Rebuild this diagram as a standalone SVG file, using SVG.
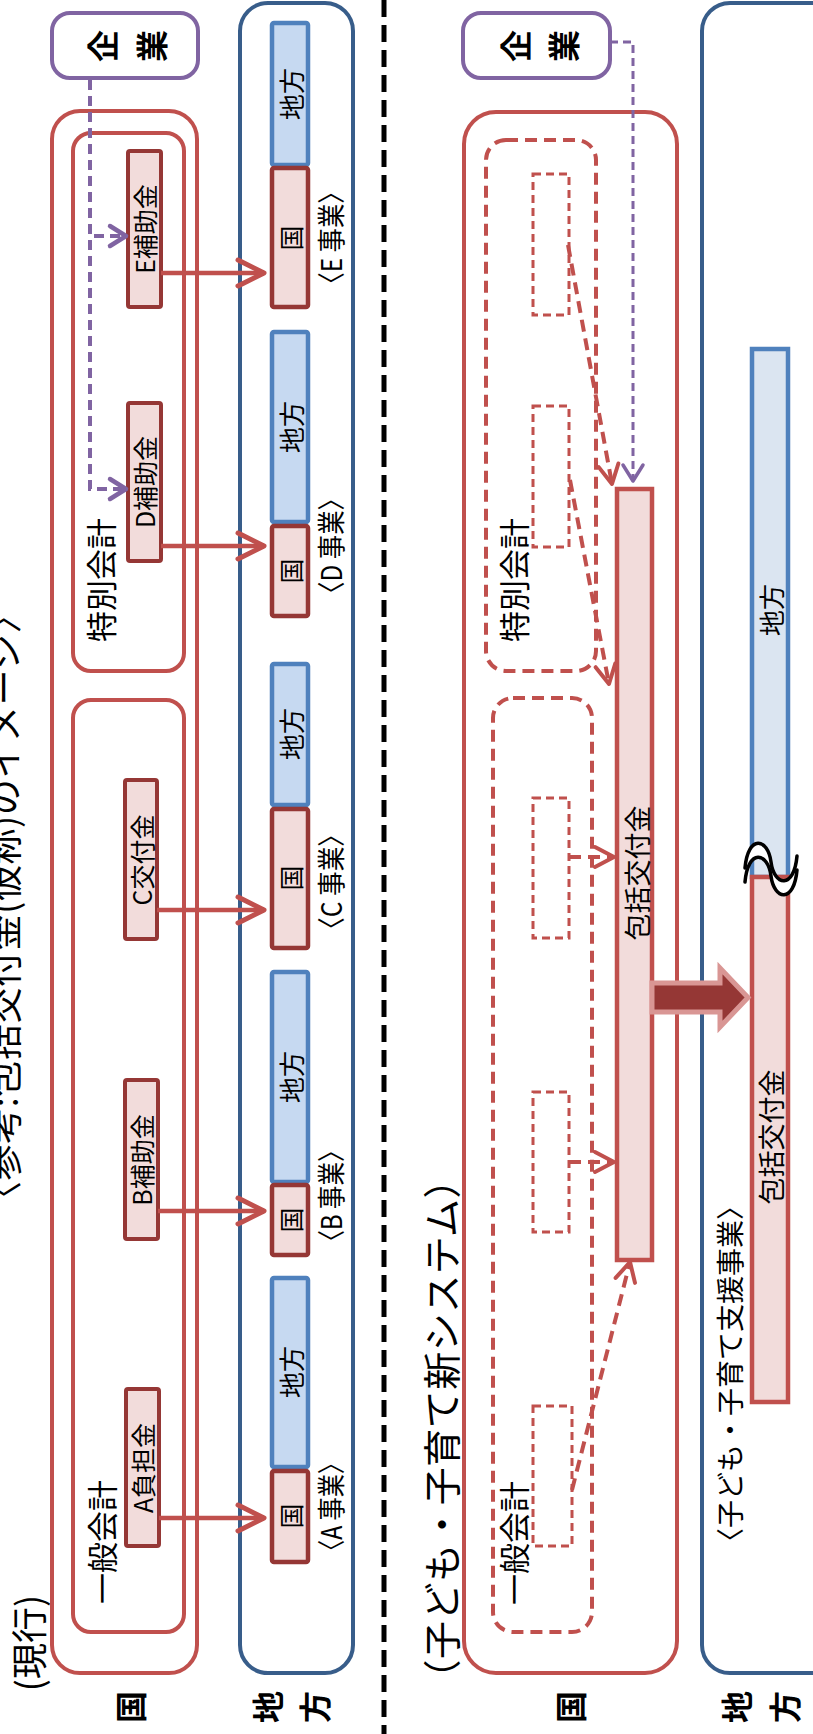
<svg xmlns="http://www.w3.org/2000/svg" width="813" height="1734" viewBox="0 0 813 1734">
<style>
.t{font-family:"Noto Sans CJK JP","Noto Sans CJK SC",sans-serif;fill:#000;dominant-baseline:central;text-anchor:middle}
.b{font-weight:bold}
.redbox{fill:none;stroke:#C0504D;stroke-width:4}
.bluepanel{fill:none;stroke:#385D8A;stroke-width:4}
.blue{fill:#C6D9F1;stroke:#4F81BD;stroke-width:4.5}
.blue2{fill:#DBE5F1;stroke:#4F81BD;stroke-width:4.5}
.kuni{fill:#F2DCDB;stroke:#953735;stroke-width:4.5}
.src{fill:#F2DCDB;stroke:#953735;stroke-width:4}
.bar{fill:#F2DCDB;stroke:#C0504D;stroke-width:4.5}
.purple{fill:#fff;stroke:#8064A2;stroke-width:4}
.dashbox{fill:none;stroke:#C0504D;stroke-width:4;stroke-dasharray:12 7}
.dashsmall{fill:none;stroke:#C0504D;stroke-width:3;stroke-dasharray:8 5}
.arr{fill:none;stroke:#C0504D;stroke-width:4.5}
.parr{fill:none;stroke:#8064A2;stroke-width:4;stroke-dasharray:10 6}
.parr2{fill:none;stroke:#8064A2;stroke-width:3;stroke-dasharray:8 5}
.darr{fill:none;stroke:#C0504D;stroke-width:4;stroke-dasharray:12 7}
</style>
<defs>
<marker id="mRed" markerUnits="userSpaceOnUse" viewBox="-5 -5 40 40" markerWidth="40" markerHeight="40" refX="27" refY="13" orient="auto"><path d="M1,0 L27,13 L1,26" fill="none" stroke="#C0504D" stroke-width="5" stroke-linecap="round" stroke-linejoin="round"/></marker>
<marker id="mPurp" markerUnits="userSpaceOnUse" viewBox="-5 -5 30 30" markerWidth="30" markerHeight="30" refX="17" refY="10" orient="auto"><path d="M1,0 L17,10 L1,20" fill="none" stroke="#8064A2" stroke-width="4.5" stroke-linecap="round" stroke-linejoin="round"/></marker>
<marker id="mPurp2" markerUnits="userSpaceOnUse" viewBox="-5 -5 30 30" markerWidth="30" markerHeight="30" refX="17" refY="10" orient="auto"><path d="M1,0 L17,10 L1,20" fill="none" stroke="#8064A2" stroke-width="3.5" stroke-linecap="round" stroke-linejoin="round"/></marker>
<marker id="mDash" markerUnits="userSpaceOnUse" viewBox="-5 -5 30 30" markerWidth="30" markerHeight="30" refX="20" refY="10" orient="auto"><path d="M1,0 L20,10 L1,20" fill="none" stroke="#C0504D" stroke-width="4" stroke-linecap="round" stroke-linejoin="round"/></marker>
</defs>

<!-- divider -->
<line x1="384" y1="0" x2="384" y2="1734" stroke="#000" stroke-width="5" stroke-dasharray="17 8"/>

<!-- title texts -->
<text class="t" font-size="36" transform="translate(2,907) rotate(-90)" textLength="620" lengthAdjust="spacing">〈参考:包括交付金(仮称)のイメージ〉</text>
<text class="t" font-size="36" transform="translate(27,1643) rotate(-90)">(現行)</text>
<text class="t" font-size="38" transform="translate(439,1429) rotate(-90)" textLength="537" lengthAdjust="spacing">（子ども・子育て新システム）</text>

<!-- LEFT PANEL -->
<g id="left-kigyo">
<rect class="purple" x="52" y="13" width="146" height="65" rx="18"/>
<text class="t b" font-size="32" transform="translate(101,46) rotate(-90)">企</text>
<text class="t b" font-size="32" transform="translate(150,46) rotate(-90)">業</text>
</g>
<g id="left-kuni">
<rect class="redbox" x="52" y="111" width="145" height="1562" rx="28"/>
</g>
<g id="left-tokubetsu">
<rect class="redbox" x="73" y="133" width="111" height="538" rx="18" stroke-width="3.5"/>
<text class="t" font-size="31" transform="translate(99,580) rotate(-90)">特別会計</text>
</g>
<g id="left-ippan">
<rect class="redbox" x="73" y="700" width="111" height="932" rx="18" stroke-width="3.5"/>
<text class="t" font-size="31" transform="translate(100,1542) rotate(-90)">一般会計</text>
</g>
<g id="box-E"><rect class="src" x="128" y="151" width="33" height="156" rx="2"/><text class="t" font-size="25" transform="translate(144,229) rotate(-90)">E補助金</text></g>
<g id="box-D"><rect class="src" x="128" y="403" width="33" height="158" rx="2"/><text class="t" font-size="25" transform="translate(144,482) rotate(-90)">D補助金</text></g>
<g id="box-C"><rect class="src" x="125" y="780" width="32" height="159" rx="2"/><text class="t" font-size="25" transform="translate(141,860) rotate(-90)">C交付金</text></g>
<g id="box-B"><rect class="src" x="125" y="1080" width="33" height="159" rx="2"/><text class="t" font-size="25" transform="translate(141,1160) rotate(-90)">B補助金</text></g>
<g id="box-A"><rect class="src" x="126" y="1389" width="33" height="157" rx="2"/><text class="t" font-size="25" transform="translate(142,1468) rotate(-90)">A負担金</text></g>

<g id="left-chiho">
<rect class="bluepanel" x="240" y="3" width="113" height="1670" rx="28"/>
</g>
<g id="proj-E">
<rect class="blue" x="272" y="23" width="36" height="142" rx="2"/><text class="t" font-size="26" transform="translate(290,94) rotate(-90)">地方</text>
<rect class="kuni" x="272" y="168" width="36" height="139" rx="2"/><text class="t" font-size="25" transform="translate(290,238) rotate(-90)">国</text>
<text class="t" font-size="28" transform="translate(330,238) rotate(-90)" textLength="117" lengthAdjust="spacingAndGlyphs">〈E 事業〉</text>
</g>
<g id="proj-D">
<rect class="blue" x="272" y="332" width="36" height="190" rx="2"/><text class="t" font-size="26" transform="translate(290,427) rotate(-90)">地方</text>
<rect class="kuni" x="272" y="526" width="36" height="90" rx="2"/><text class="t" font-size="25" transform="translate(290,571) rotate(-90)">国</text>
<text class="t" font-size="28" transform="translate(330,546) rotate(-90)" textLength="120" lengthAdjust="spacingAndGlyphs">〈D 事業〉</text>
</g>
<g id="proj-C">
<rect class="blue" x="272" y="664" width="36" height="141" rx="2"/><text class="t" font-size="26" transform="translate(290,734) rotate(-90)">地方</text>
<rect class="kuni" x="272" y="809" width="36" height="139" rx="2"/><text class="t" font-size="25" transform="translate(290,878) rotate(-90)">国</text>
<text class="t" font-size="28" transform="translate(330,882) rotate(-90)" textLength="120" lengthAdjust="spacingAndGlyphs">〈C 事業〉</text>
</g>
<g id="proj-B">
<rect class="blue" x="272" y="972" width="36" height="210" rx="2"/><text class="t" font-size="26" transform="translate(290,1077) rotate(-90)">地方</text>
<rect class="kuni" x="272" y="1185" width="36" height="70" rx="2"/><text class="t" font-size="25" transform="translate(290,1220) rotate(-90)">国</text>
<text class="t" font-size="28" transform="translate(330,1196) rotate(-90)" textLength="115" lengthAdjust="spacingAndGlyphs">〈B 事業〉</text>
</g>
<g id="proj-A">
<rect class="blue" x="272" y="1278" width="36" height="189" rx="2"/><text class="t" font-size="26" transform="translate(290,1372) rotate(-90)">地方</text>
<rect class="kuni" x="272" y="1471" width="36" height="91" rx="2"/><text class="t" font-size="25" transform="translate(290,1516) rotate(-90)">国</text>
<text class="t" font-size="28" transform="translate(330,1507) rotate(-90)" textLength="112" lengthAdjust="spacingAndGlyphs">〈A 事業〉</text>
</g>

<g id="left-row-labels">
<text class="t b" font-size="32" transform="translate(129,1707) rotate(-90)">国</text>
<text class="t b" font-size="32" transform="translate(266,1707) rotate(-90)">地</text>
<text class="t b" font-size="32" transform="translate(313,1707) rotate(-90)">方</text>
</g>

<!-- RIGHT PANEL -->
<g id="right-kigyo">
<rect class="purple" x="463" y="13" width="147" height="65" rx="18"/>
<text class="t b" font-size="32" transform="translate(514,46) rotate(-90)">企</text>
<text class="t b" font-size="32" transform="translate(562,46) rotate(-90)">業</text>
</g>
<g id="right-kuni">
<rect class="redbox" x="464" y="112" width="213" height="1561" rx="32"/>
</g>
<g id="right-tokubetsu">
<rect class="dashbox" x="486" y="140" width="110" height="531" rx="20"/>
<text class="t" font-size="31" transform="translate(512,580) rotate(-90)">特別会計</text>
<rect class="dashsmall" x="533" y="174" width="36" height="141"/>
<rect class="dashsmall" x="533" y="406" width="36" height="141"/>
</g>
<g id="right-ippan">
<rect class="dashbox" x="493" y="698" width="99" height="934" rx="20"/>
<text class="t" font-size="31" transform="translate(512,1543) rotate(-90)">一般会計</text>
<rect class="dashsmall" x="533" y="798" width="36" height="140"/>
<rect class="dashsmall" x="533" y="1092" width="36" height="140"/>
<rect class="dashsmall" x="533" y="1406" width="39" height="140"/>
</g>
<g id="right-hokatsu">
<rect class="bar" x="617" y="489" width="35" height="771"/>
<text class="t" font-size="27" transform="translate(636,873) rotate(-90)">包括交付金</text>
</g>
<g id="right-chiho">
<rect class="bluepanel" x="702" y="3" width="140" height="1670" rx="28"/>
<text class="t" font-size="28" transform="translate(729,1374) rotate(-90)">〈子ども・子育て支援事業〉</text>
</g>
<g id="right-chiho-bar">
<rect class="blue2" x="752" y="349" width="36" height="528"/>
<text class="t" font-size="26" transform="translate(770,610) rotate(-90)">地方</text>
<rect class="bar" x="752" y="877" width="36" height="525"/>
<text class="t" font-size="27" transform="translate(770,1137) rotate(-90)">包括交付金</text>
<path d="M745,868 C748,834 768,838 771,862 C774,886 794,890 797,856 L797,870 C794,904 774,900 771,876 C768,852 748,848 745,882 Z" fill="#fff" stroke="none"/>
<path d="M745,868 C748,834 768,838 771,862 C774,886 794,890 797,856" fill="none" stroke="#000" stroke-width="3.5" stroke-linecap="round"/>
<path d="M745,882 C748,848 768,852 771,876 C774,900 794,904 797,870" fill="none" stroke="#000" stroke-width="3.5" stroke-linecap="round"/>
</g>
<g id="right-row-labels">
<text class="t b" font-size="32" transform="translate(569,1707) rotate(-90)">国</text>
<text class="t b" font-size="32" transform="translate(735,1707) rotate(-90)">地</text>
<text class="t b" font-size="32" transform="translate(783,1707) rotate(-90)">方</text>
</g>

<!-- CONNECTORS -->
<g id="connectors">
<path class="parr" d="M90,80 V236 H126" marker-end="url(#mPurp)"/>
<path class="parr" d="M90,80 V489 H126" marker-end="url(#mPurp)"/>
<path class="arr" d="M161,273 H264" marker-end="url(#mRed)"/>
<path class="arr" d="M161,546 H264" marker-end="url(#mRed)"/>
<path class="arr" d="M157,910 H264" marker-end="url(#mRed)"/>
<path class="arr" d="M158,1211 H264" marker-end="url(#mRed)"/>
<path class="arr" d="M159,1518 H264" marker-end="url(#mRed)"/>
<path class="parr2" d="M610,42 H633 V481" marker-end="url(#mPurp2)"/>
<path class="darr" d="M568,245 L612,484" marker-end="url(#mDash)"/>
<path class="darr" d="M570,480 L609,684" marker-end="url(#mDash)"/>
<path class="darr" d="M569,857 H614" marker-end="url(#mDash)"/>
<path class="darr" d="M569,1162 H614" marker-end="url(#mDash)"/>
<path class="darr" d="M572,1490 L630,1262" marker-end="url(#mDash)"/>
<polygon points="652,983 720,983 720,968 748,997.5 720,1027 720,1012 652,1012" fill="#953735" stroke="#D99694" stroke-width="5" stroke-linejoin="miter"/>
</g>
</svg>
